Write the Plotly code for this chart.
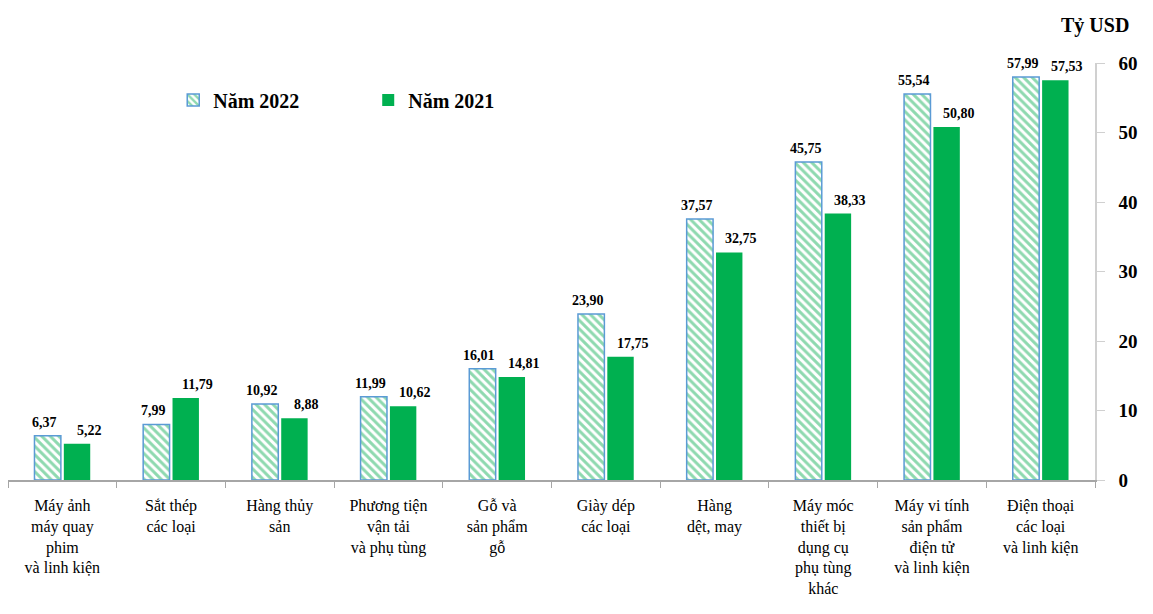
import plotly.graph_objects as go

categories = [
    "Máy ảnh<br>máy quay<br>phim<br>và linh kiện",
    "Sắt thép<br>các loại",
    "Hàng thủy<br>sản",
    "Phương tiện<br>vận tải<br>và phụ tùng",
    "Gỗ và<br>sản phẩm<br>gỗ",
    "Giày dép<br>các loại",
    "Hàng<br>dệt, may",
    "Máy móc<br>thiết bị<br>dụng cụ<br>phụ tùng<br>khác",
    "Máy vi tính<br>sản phẩm<br>điện tử<br>và linh kiện",
    "Điện thoại<br>các loại<br>và linh kiện",
]
values_2022 = [6.37, 7.99, 10.92, 11.99, 16.01, 23.90, 37.57, 45.75, 55.54, 57.99]
values_2021 = [5.22, 11.79, 8.88, 10.62, 14.81, 17.75, 32.75, 38.33, 50.80, 57.53]
y_ticks = [0, 10, 20, 30, 40, 50, 60]

SERIF = "Liberation Serif"
GREEN = "#00B050"
BLUE_EDGE = "#5B9BD5"

W, H = 1153, 614
ML, MR, MT, MB = 8, 58, 63, 134
BARGAP, GROUPGAP = 0.46, 0.1

# pixel offset of each bar centre from its category centre
cat_w = (W - ML - MR) / len(categories)
slot = cat_w * (1 - BARGAP) / 2
label_font = dict(family=SERIF, size=14, color="black", weight="bold")

fig = go.Figure()
fig.add_trace(go.Bar(
    name="Năm 2022",
    x=categories,
    y=values_2022,
    marker=dict(
        color="white",
        line=dict(color=BLUE_EDGE, width=1.5),
        pattern=dict(shape="\\", fgcolor="#1DB35F", bgcolor="white", size=6, solidity=0.5),
    ),
))
fig.add_trace(go.Bar(
    name="Năm 2021",
    x=categories,
    y=values_2021,
    marker=dict(color=GREEN, line=dict(width=0)),
))

annotations = []
for c, v in zip(categories, values_2022):
    annotations.append(dict(
        x=c, y=v, xref="x", yref="y", text=f"{v:.2f}".replace(".", ","),
        showarrow=False, xanchor="center", yanchor="bottom",
        xshift=-slot / 2 - 3, yshift=4, font=label_font,
    ))
for c, v in zip(categories, values_2021):
    annotations.append(dict(
        x=c, y=v, xref="x", yref="y", text=f"{v:.2f}".replace(".", ","),
        showarrow=False, xanchor="center", yanchor="bottom",
        xshift=slot / 2 + 12, yshift=4, font=label_font,
    ))
annotations.append(dict(
    text="Tỷ USD", xref="paper", yref="paper", x=1.0, y=1.0,
    yshift=38, xanchor="center", yanchor="middle", showarrow=False,
    font=dict(family=SERIF, size=20, color="black", weight="bold"),
))

fig.update_layout(
    width=W,
    height=H,
    margin=dict(l=ML, r=MR, t=MT, b=MB),
    paper_bgcolor="white",
    plot_bgcolor="white",
    separators=",.",
    barmode="group",
    bargap=BARGAP,
    bargroupgap=GROUPGAP,
    showlegend=True,
    legend=dict(
        orientation="h",
        x=0.152, y=0.911, xanchor="left", yanchor="middle",
        font=dict(family=SERIF, size=20, color="black", weight="bold"),
        entrywidth=150, entrywidthmode="pixels",
        bgcolor="rgba(0,0,0,0)",
    ),
    font=dict(family=SERIF, color="black"),
    xaxis=dict(
        showline=True, linecolor="#A6A6A6", linewidth=1.5,
        ticks="outside", tickson="boundaries", ticklen=6, tickcolor="#A6A6A6",
        tickfont=dict(family=SERIF, size=16, color="black"),
        ticklabelstandoff=10,
        showgrid=False,
    ),
    yaxis=dict(
        side="right",
        range=[0, 60],
        tickvals=y_ticks,
        showline=True, linecolor="#D0D0D0", linewidth=1.5,
        ticks="outside", ticklen=8, tickcolor="#D0D0D0",
        tickfont=dict(family=SERIF, size=19, color="black", weight="bold"),
        ticklabelstandoff=10,
        showgrid=False, zeroline=False,
    ),
    annotations=annotations,
)

fig.write_html("out.html")
